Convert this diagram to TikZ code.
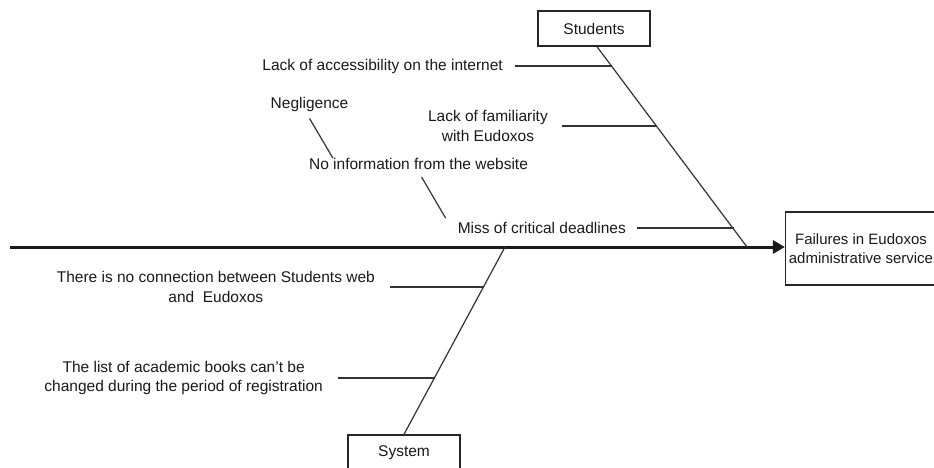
\documentclass[tikz,border=0pt]{standalone}
\usepackage{fontspec}
\setmainfont{Liberation Sans}
\usepackage{tikz}
\usetikzlibrary{arrows.meta}
\newcommand{\causefont}{\fontsize{15.5}{19.5}\selectfont}

\begin{document}
\begin{tikzpicture}[
    x=1pt, y=-1pt,
    cause/.style ={inner sep=0pt, align=center, font=\causefont, text=black!90},
    catbox/.style={rectangle, draw, line width=1.4pt, color=black!85, text=black!90,
                   minimum width=112pt, minimum height=35pt, align=center, font=\causefont},
    bone/.style  ={line width=1.2pt, color=black!80},
    spine/.style ={line width=3pt, color=black!90, -{Triangle[length=12pt, width=13pt]}}
]
\useasboundingbox (0,0) rectangle (934,467);
\clip (0,0) rectangle (934,467);

% categories and effect
\node[catbox]                                            (students) at (594,28.5) {Students};
\node[catbox, minimum height=36pt]                       (system)   at (404,453)  {System};
\node[catbox, minimum width=150pt, minimum height=73pt,
      font=\fontsize{15}{19.5}\selectfont]               (effect)   at (861,248.5) {Failures in Eudoxos\\administrative service};

% spine
\coordinate (tail) at (10,247);
\draw[spine] (tail) -- (tail -| effect.west);

% bones
\coordinate (sjoin) at (747,247);
\coordinate (yjoin) at (505,247);
\draw[bone] ([xshift=3pt]students.south) -- (sjoin);
\draw[bone] (yjoin) -- (system.north);

\coordinate (s1) at (612,66);
\coordinate (s2) at (657,126);
\coordinate (s3) at (734,228);
\coordinate (y1) at (484,287);
\coordinate (y2) at (435,378);

% causes
\node[cause, anchor=east] (access)   at (503,66)   {Lack of accessibility on the internet};
\node[cause, anchor=east] (familiar) at (548,126)  {Lack of familiarity\\with Eudoxos};
\node[cause, anchor=east] (deadline) at (626,228)  {Miss of critical deadlines};
\node[cause]              (noinfo)   at (418.5,164) {No information from the website};
\node[cause]              (neglect)  at (309.5,104) {Negligence};
\node[cause, anchor=east] (nolink)   at (375,287)  {There is no connection between Students web\\and\ \ Eudoxos};
\node[cause, anchor=east] (booklist) at (323,378)  {The list of academic books can't be\\changed during the period of registration};

\draw[bone, shorten <=12pt] (access.east)   -- (s1);
\draw[bone, shorten <=14pt] (familiar.east) -- (s2);
\draw[bone, shorten <=11pt] (deadline.east) -- (s3);
\draw[bone, shorten <=15pt] (nolink.east)   -- (y1);
\draw[bone, shorten <=15pt] (booklist.east) -- (y2);

% sub-causes
\draw[bone] ([yshift=-7pt]neglect.south) -- ([xshift=24pt]noinfo.north west);
\draw[bone] ([xshift=3pt,yshift=-7pt]noinfo.south) -- ([xshift=-12pt,yshift=4pt]deadline.north west);
\end{tikzpicture}
\end{document}
